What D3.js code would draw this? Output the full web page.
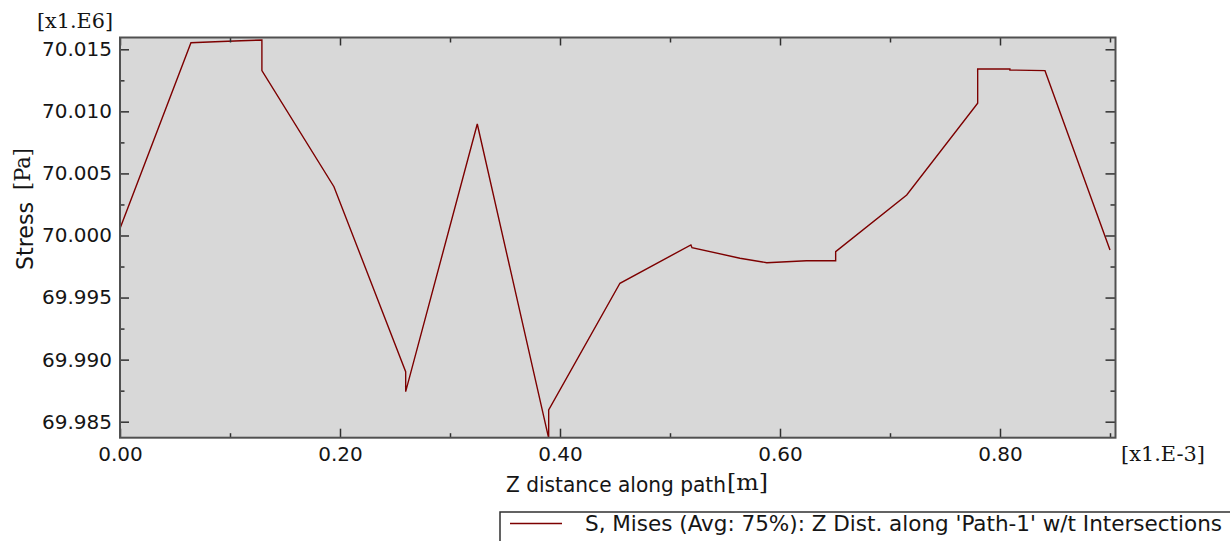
<!DOCTYPE html>
<html>
<head>
<meta charset="utf-8">
<script src="https://cdn.jsdelivr.net/npm/d3@7"></script>
<style>
body { margin: 0; background: #fff; }
svg text { fill: #151515; }
</style>
</head>
<body>
<div id="chart"></div>
<script>
// values: distance in x1.E-3 m, stress in x1.E6 Pa
var zDist  = [0, 0.0645, 0.0864, 0.110, 0.129, 0.129, 0.1945, 0.2597, 0.2597, 0.3248,
              0.3897, 0.3897, 0.4545, 0.519, 0.520, 0.5636, 0.588, 0.624, 0.6506, 0.6506,
              0.7152, 0.7797, 0.7797, 0.809, 0.809, 0.8409, 0.900];
var stress = [70.00057, 70.01553, 70.01561, 70.01569, 70.01575, 70.01328, 70.00393, 69.98903, 69.98742, 70.00898,
              69.98367, 69.98595, 69.99615, 69.99924, 69.99902, 69.99817, 69.99781, 69.99797, 69.99797, 69.99870,
              70.00326, 70.01065, 70.01341, 70.01341, 70.01333, 70.01328, 69.99883];
var xMajor = [0, 0.2, 0.4, 0.6, 0.8];
var xMinor = [0.1, 0.3, 0.5, 0.7, 0.9];
var yMajor = [69.985, 69.990, 69.995, 70.000, 70.005, 70.010, 70.015];
var yMinor = [69.9875, 69.9925, 69.9975, 70.0025, 70.0075, 70.0125];
var seriesName = "S, Mises (Avg: 75%): Z Dist. along 'Path-1' w/t Intersections";

const margin = {top: 37.5, right: 114.5, bottom: 103.3, left: 120};
var width = 1230, height = 541;
var plotW = width - margin.left - margin.right;
var plotH = height - margin.top - margin.bottom;
var sans = "'DejaVu Sans', Verdana, sans-serif";
var cond = "'DejaVu Sans Condensed', 'DejaVu Sans', sans-serif";
var serif = "'DejaVu Serif', serif";
var lineColor = "#7d0000";

var svg = d3.select("#chart").append("svg")
  .attr("width", width)
  .attr("height", height);

var g = svg.append("g")
  .attr("transform", `translate(${margin.left},${margin.top})`);

var x_scale = d3.scaleLinear().domain([0, 0.905]).range([0, plotW]);
var y_scale = d3.scaleLinear().domain([69.98371, 70.01595]).range([plotH, 0]);

// plot background
g.append("rect")
  .attr("width", plotW).attr("height", plotH)
  .attr("fill", "#d8d8d8");

g.append("clipPath").attr("id", "clip")
  .append("rect").attr("width", plotW).attr("height", plotH);

var pts = zDist.map((d, i) => [d, stress[i]]);
g.append("path")
  .datum(pts)
  .attr("clip-path", "url(#clip)")
  .attr("fill", "none")
  .attr("stroke", lineColor)
  .attr("stroke-width", 1.4)
  .attr("d", d3.line().x(d => x_scale(d[0])).y(d => y_scale(d[1])));

// ticks on all four sides, pointing in
function tickAxis(axis, vals, size, tf, transform) {
  var a = g.append("g")
    .attr("transform", transform || null)
    .call(axis.tickValues(vals).tickSize(size).tickPadding(8).tickFormat(tf));
  a.select(".domain").remove();
  a.selectAll("line").attr("stroke", "#303030").attr("stroke-width", 1.5);
  a.selectAll("text").style("font", "20px " + sans).attr("fill", "#151515");
  return a;
}
tickAxis(d3.axisLeft(y_scale), yMajor, -9, d3.format(".3f"));
tickAxis(d3.axisLeft(y_scale), yMinor, -4.5, "");
tickAxis(d3.axisRight(y_scale), yMajor, -10, "", `translate(${plotW},0)`);
tickAxis(d3.axisRight(y_scale), yMinor, -5, "", `translate(${plotW},0)`);
var xa = tickAxis(d3.axisBottom(x_scale), xMajor, -9, d3.format(".2f"), `translate(0,${plotH})`);
xa.selectAll("text").attr("y", 9).attr("dy", "0.71em");
tickAxis(d3.axisBottom(x_scale), xMinor, -4.5, "", `translate(0,${plotH})`);
tickAxis(d3.axisTop(x_scale), xMajor, -8, "");
tickAxis(d3.axisTop(x_scale), xMinor, -5, "");

// frame
g.append("rect")
  .attr("width", plotW).attr("height", plotH)
  .attr("fill", "none")
  .attr("stroke", "#505050")
  .attr("stroke-width", 2);

// multipliers
svg.append("text")
  .attr("x", 37).attr("y", 28)
  .attr("textLength", 76).attr("lengthAdjust", "spacingAndGlyphs")
  .style("font", "20px " + serif)
  .text("[x1.E6]");
svg.append("text")
  .attr("x", 1121).attr("y", 461)
  .attr("textLength", 84).attr("lengthAdjust", "spacingAndGlyphs")
  .style("font", "20px " + serif)
  .text("[x1.E-3]");

// axis titles
svg.append("text")
  .attr("x", 506).attr("y", 491.5)
  .attr("textLength", 220).attr("lengthAdjust", "spacingAndGlyphs")
  .style("font", "21px " + cond)
  .text("Z distance along path");
svg.append("text")
  .attr("x", 727).attr("y", 490)
  .attr("textLength", 41).attr("lengthAdjust", "spacingAndGlyphs")
  .style("font", "23px " + serif)
  .text("[m]");

svg.append("text")
  .attr("transform", "translate(33,270) rotate(-90)")
  .attr("textLength", 68).attr("lengthAdjust", "spacingAndGlyphs")
  .style("font", "23px " + cond)
  .text("Stress");
svg.append("text")
  .attr("transform", "translate(30,190) rotate(-90)")
  .attr("textLength", 42).attr("lengthAdjust", "spacingAndGlyphs")
  .style("font", "22px " + serif)
  .text("[Pa]");

// legend
var leg = svg.append("g");
leg.append("rect")
  .attr("x", 500).attr("y", 512)
  .attr("width", 760).attr("height", 60)
  .attr("fill", "#fff")
  .attr("stroke", "#303030")
  .attr("stroke-width", 1.5);
leg.append("line")
  .attr("x1", 510).attr("x2", 562)
  .attr("y1", 523.5).attr("y2", 523.5)
  .attr("stroke", lineColor)
  .attr("stroke-width", 1.4);
leg.append("text")
  .attr("x", 585).attr("y", 531)
  .attr("textLength", 637).attr("lengthAdjust", "spacingAndGlyphs")
  .style("font", "21px " + cond)
  .text(seriesName);
</script>
</body>
</html>
